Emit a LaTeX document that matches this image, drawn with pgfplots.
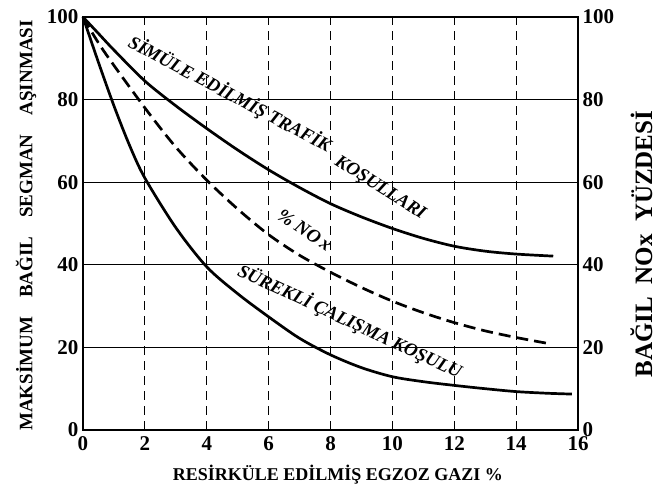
\documentclass[border=0pt]{standalone}
\usepackage{fontspec}
\setmainfont{Liberation Serif}
\usepackage{pgfplots}
\pgfplotsset{compat=1.18}
\begin{document}
\begin{tikzpicture}[x=1pt,y=1pt]
\useasboundingbox (-83,-65) rectangle (578,430);
\begin{axis}[
  at={(0,0)}, anchor=south west,
  scale only axis, width=495pt, height=413pt,
  xmin=0, xmax=16, ymin=0, ymax=100,
  xtick={0,2,...,16}, ytick={0,20,...,100},
  axis line style={line width=2pt},
  major tick length=0pt,
  /pgf/number format/assume math mode=true,
  ticklabel style={font=\bfseries\fontsize{21}{21}\selectfont},
  xticklabel style={yshift=-3pt},
  yticklabel style={xshift=-1pt},
  xlabel={RESİRKÜLE EDİLMİŞ EGZOZ GAZI \%},
  xlabel style={font=\bfseries\fontsize{18}{18}\selectfont, at={(axis description cs:0.515,-0.109)}, anchor=center},
  ylabel={MAKSİMUM\quad BAĞIL\quad SEGMAN\quad AŞINMASI},
  ylabel style={font=\bfseries\fontsize{19}{19}\selectfont, at={(axis description cs:-0.115,0.495)}, anchor=center},
  clip=false,
]
% grid
\draw[line width=1.2pt] (axis cs:0,20) -- (axis cs:16,20);
\draw[line width=1.2pt] (axis cs:0,40) -- (axis cs:16,40);
\draw[line width=1.2pt] (axis cs:0,60) -- (axis cs:16,60);
\draw[line width=1.2pt] (axis cs:0,80) -- (axis cs:16,80);
\foreach \xx in {2,4,...,14} {
  \edef\tmp{\noexpand\draw[line width=1.1pt, dash pattern=on 9pt off 6pt] (axis cs:\xx,0) -- (axis cs:\xx,100);}\tmp
}
% simulated traffic conditions
\addplot[black, line width=2.7pt, smooth] coordinates {
(0,100) (0.5,96) (1,92) (2,84.5) (3,78.5) (4,73) (5,67.8) (6,63) (7,58.7) (8,54.8) (9,51.6) (10,48.8) (11,46.4) (12,44.5) (13,43.3) (14,42.6) (15.2,42.1)
};
% NOx
\addplot[black, line width=2.7pt, smooth, dash pattern=on 12pt off 6pt] coordinates {
(0,100) (0.65,92) (2,78) (3,68.5) (4,60.5) (5,53.5) (6,47.3) (7,42.3) (8,38.2) (9,34.5) (10,31.2) (11,28.4) (12,26) (13,24) (14,22.4) (15,21)
};
% steady state
\addplot[black, line width=2.7pt, smooth] coordinates {
(0,100) (0.5,89) (1,78.5) (1.5,69) (2,61) (3,49) (4,39.5) (5,33) (6,27.4) (7,22.2) (8,18.2) (9,15.1) (10,12.9) (11,11.7) (12,10.8) (13,10) (14,9.3) (15,8.9) (15.8,8.7)
};
\node[font=\bfseries\itshape\fontsize{18.5}{18.5}\selectfont, rotate=-28] at (axis cs:4.75,81.3) {SİMÜLE EDİLMİŞ TRAFİK};
\node[font=\bfseries\itshape\fontsize{18.5}{18.5}\selectfont, rotate=-32.5] at (axis cs:9.6,58.5) {KOŞULLARI};
\node[font=\bfseries\itshape\fontsize{19}{19}\selectfont, rotate=-34] at (axis cs:7.17,48.4) {\% NO\,x};
\node[font=\bfseries\itshape\fontsize{18.5}{18.5}\selectfont, rotate=-25] at (axis cs:8.63,26.3) {SÜREKLİ ÇALIŞMA KOŞULU};
\end{axis}
\begin{axis}[
  at={(0,0)}, anchor=south west,
  scale only axis, width=495pt, height=413pt,
  xmin=0, xmax=16, ymin=0, ymax=100,
  ytick={0,20,...,100},
  hide x axis,
  axis y line*=right,
  axis line style={line width=2pt, -},
  major tick length=0pt,
  /pgf/number format/assume math mode=true,
  ticklabel style={font=\bfseries\fontsize{21}{21}\selectfont},
  yticklabel style={xshift=1pt},
  ylabel={BAĞIL\ \ NOx\ \ YÜZDESİ},
  ylabel style={font=\bfseries\fontsize{25}{25}\selectfont, at={(axis description cs:1.128,0.45)}, anchor=center, rotate=0},
]
\end{axis}
\end{tikzpicture}
\end{document}
